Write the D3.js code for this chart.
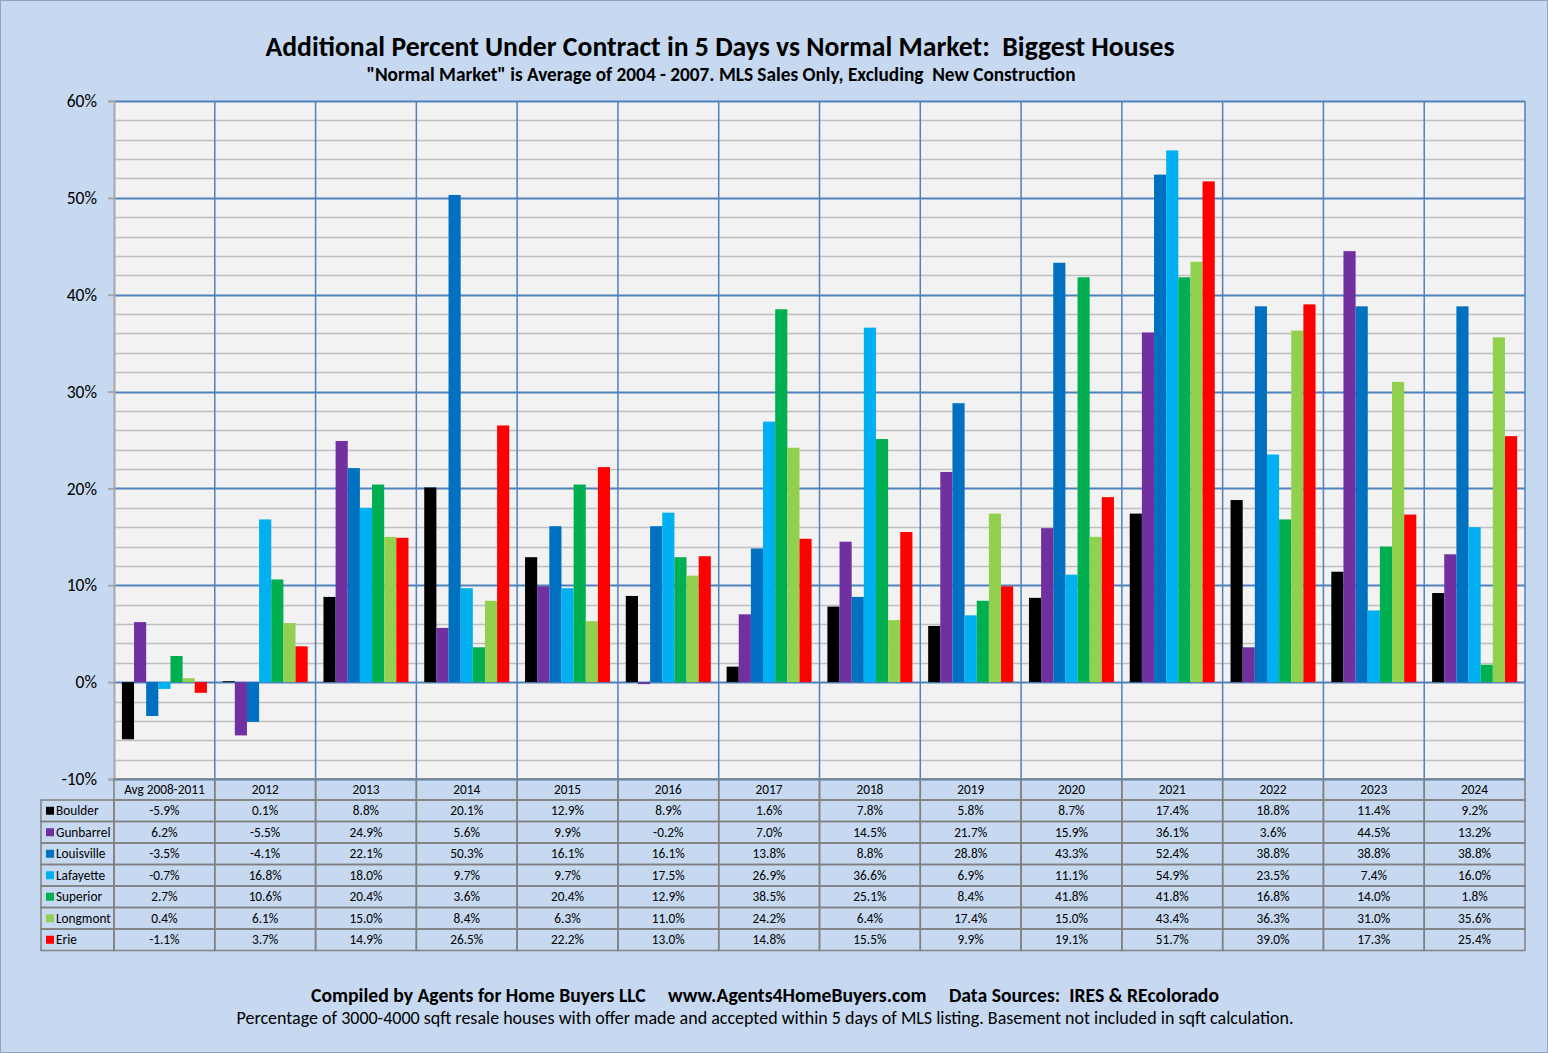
<!DOCTYPE html>
<html><head><meta charset="utf-8">
<script src="https://cdn.jsdelivr.net/npm/d3@7"></script>
<style>body{margin:0;background:#fff;}svg{display:block;font-family:Carlito,Calibri,"Liberation Sans","Open Sans",sans-serif;}text{white-space:pre;}</style>
</head><body><svg id="c" width="1548" height="1053"></svg>
<script>
const categories = ["Avg 2008-2011","2012","2013","2014","2015","2016","2017","2018","2019","2020","2021","2022","2023","2024"];
const seriesNames = ["Boulder","Gunbarrel","Louisville","Lafayette","Superior","Longmont","Erie"];
const seriesColors = ["#000000","#7030A0","#0070C0","#00B0F0","#00B050","#92D050","#FF0000"];
const boulder    = [-5.9,0.1,8.8,20.1,12.9,8.9,1.6,7.8,5.8,8.7,17.4,18.8,11.4,9.2];
const gunbarrel  = [6.2,-5.5,24.9,5.6,9.9,-0.2,7.0,14.5,21.7,15.9,36.1,3.6,44.5,13.2];
const louisville = [-3.5,-4.1,22.1,50.3,16.1,16.1,13.8,8.8,28.8,43.3,52.4,38.8,38.8,38.8];
const lafayette  = [-0.7,16.8,18.0,9.7,9.7,17.5,26.9,36.6,6.9,11.1,54.9,23.5,7.4,16.0];
const superior   = [2.7,10.6,20.4,3.6,20.4,12.9,38.5,25.1,8.4,41.8,41.8,16.8,14.0,1.8];
const longmont   = [0.4,6.1,15.0,8.4,6.3,11.0,24.2,6.4,17.4,15.0,43.4,36.3,31.0,35.6];
const erie       = [-1.1,3.7,14.9,26.5,22.2,13.0,14.8,15.5,9.9,19.1,51.7,39.0,17.3,25.4];
const seriesValues = [boulder,gunbarrel,louisville,lafayette,superior,longmont,erie];
const yTicks = [-10,0,10,20,30,40,50,60];

const svg = d3.select("#c");
const W=1548,H=1053;
svg.append("rect").attr("x",0.5).attr("y",0.5).attr("width",W-1).attr("height",H-1).attr("fill","#C6D9F1").attr("stroke","#8EA4C0");

const L=114,R=1525,T=101,B=779;
const x = d3.scaleBand().domain(categories).range([L,R]).paddingInner(0).paddingOuter(0);
const y = d3.scaleLinear().domain([-10,60]).range([B,T]);
const xs = d3.scaleBand().domain(seriesNames).range([0,x.bandwidth()]).paddingInner(0).paddingOuter(0.65);

svg.append("rect").attr("x",L).attr("y",T).attr("width",R-L).attr("height",B-T).attr("fill","#F2F2F2");
const minor = d3.range(-10,60.01,2).filter(v=>v%10!==0);
svg.append("g").selectAll("line").data(minor).join("line")
  .attr("x1",L).attr("x2",R).attr("y1",d=>Math.round(y(d))+0.5).attr("y2",d=>Math.round(y(d))+0.5)
  .attr("stroke","#BFBFBF").attr("stroke-width",1.5);
svg.append("g").selectAll("line").data(yTicks).join("line")
  .attr("x1",L).attr("x2",R).attr("y1",d=>Math.round(y(d))+0.5).attr("y2",d=>Math.round(y(d))+0.5)
  .attr("stroke","#4F81BD").attr("stroke-width",2);
svg.append("g").selectAll("line").data(categories.slice(1).concat(["__end"])).join("line")
  .attr("x1",(d,i)=> i<categories.length-1 ? x(d) : R).attr("x2",(d,i)=> i<categories.length-1 ? x(d) : R)
  .attr("y1",T).attr("y2",B).attr("stroke","#4F81BD").attr("stroke-width",1.5);

seriesNames.forEach((s,si)=>{
  svg.append("g").selectAll("rect").data(seriesValues[si]).join("rect")
    .attr("x",(d,i)=>x(categories[i])+xs(s))
    .attr("width",xs.bandwidth())
    .attr("y",d=>y(Math.max(0,d)))
    .attr("height",d=>Math.abs(y(d)-y(0)))
    .attr("fill",seriesColors[si]);
});

const yAxis = d3.axisLeft(y).tickValues(yTicks).tickFormat(d=>d+"%").tickSize(6).tickPadding(11);
const ga = svg.append("g").attr("transform",`translate(${L},0)`).call(yAxis);
ga.select(".domain").attr("stroke","#A6A6A6").attr("stroke-width",2);
ga.selectAll(".tick line").attr("stroke","#A6A6A6").attr("stroke-width",2);
ga.selectAll(".tick text").attr("font-size",17.5).attr("fill","#000").style("font-family","Carlito,Calibri,'Liberation Sans',sans-serif");

const tT=B, hdrH=21, rowH=21.5, tL=41;
const tb = svg.append("g");
tb.selectAll("rect.h").data(categories).join("rect").attr("class","h")
  .attr("x",d=>x(d)).attr("y",tT).attr("width",x.bandwidth()).attr("height",hdrH)
  .attr("fill","none").attr("stroke","#808080").attr("stroke-width",1.5);
tb.selectAll("text.h").data(categories).join("text").attr("class","h")
  .attr("x",d=>x(d)+x.bandwidth()/2).attr("y",tT+hdrH/2+4.5).attr("text-anchor","middle")
  .attr("font-size",13.3).attr("fill","#000").text(d=>d);
seriesNames.forEach((s,si)=>{
  const ry = tT+hdrH+si*rowH;
  tb.append("rect").attr("x",tL).attr("y",ry).attr("width",L-tL).attr("height",rowH)
    .attr("fill","none").attr("stroke","#808080").attr("stroke-width",1.5);
  tb.append("rect").attr("x",tL+5).attr("y",ry+rowH/2-4).attr("width",8).attr("height",8).attr("fill",seriesColors[si]);
  tb.append("text").attr("x",tL+15).attr("y",ry+rowH/2+4.5).attr("font-size",13.3).attr("fill","#000").text(s);
  tb.append("g").selectAll("rect").data(seriesValues[si]).join("rect")
    .attr("x",(d,i)=>x(categories[i])).attr("y",ry).attr("width",x.bandwidth()).attr("height",rowH)
    .attr("fill","none").attr("stroke","#808080").attr("stroke-width",1.5);
  tb.append("g").selectAll("text").data(seriesValues[si]).join("text")
    .attr("x",(d,i)=>x(categories[i])+x.bandwidth()/2).attr("y",ry+rowH/2+4.5).attr("text-anchor","middle")
    .attr("font-size",13.3).attr("fill","#000").text(d=>d.toFixed(1)+"%");
});

svg.append("text").attr("x",720).attr("y",56).attr("text-anchor","middle").attr("font-size",27.7).attr("font-weight","bold").attr("fill","#000")
  .text("Additional Percent Under Contract in 5 Days vs Normal Market:  Biggest Houses");
svg.append("text").attr("x",721).attr("y",81).attr("text-anchor","middle").attr("font-size",19.3).attr("font-weight","bold").attr("fill","#000")
  .text("\"Normal Market\" is Average of 2004 - 2007. MLS Sales Only, Excluding  New Construction");
svg.append("text").attr("x",765).attr("y",1002).attr("text-anchor","middle").attr("font-size",19.7).attr("font-weight","bold").attr("fill","#000")
  .text("Compiled by Agents for Home Buyers LLC     www.Agents4HomeBuyers.com     Data Sources:  IRES & REcolorado");
svg.append("text").attr("x",765).attr("y",1024).attr("text-anchor","middle").attr("font-size",18).attr("fill","#000")
  .text("Percentage of 3000-4000 sqft resale houses with offer made and accepted within 5 days of MLS listing. Basement not included in sqft calculation.");
</script></body></html>
